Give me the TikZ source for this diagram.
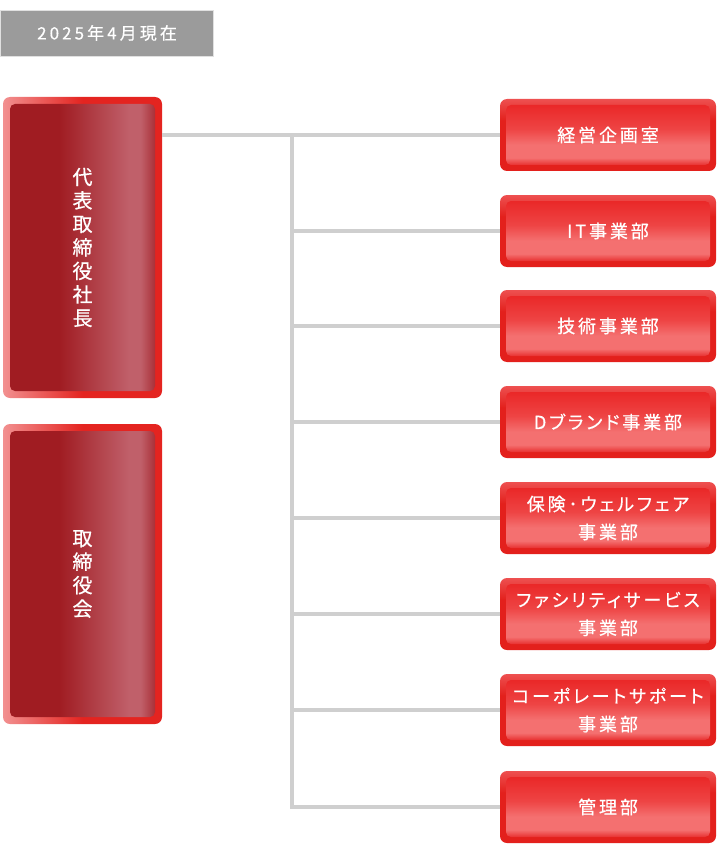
\documentclass[tikz,border=0pt]{standalone}
\usepackage{fontspec}
\setmainfont{Noto Sans CJK JP}
\newfontfamily\jpls[LetterSpace=16, RawFeature=+palt, FakeBold=0.6]{Noto Sans CJK JP}
\newfontfamily\jpdate[LetterSpace=18, FakeBold=0.4]{Noto Sans CJK JP}
\newfontfamily\jpvert[FakeBold=0.6]{Noto Sans CJK JP}
\definecolor{lineg}{HTML}{CFCFCF}
\definecolor{datebg}{HTML}{9B9B9B}
\definecolor{rOutA}{HTML}{EE5050}
\definecolor{rOutB}{HTML}{E3201C}
\definecolor{rInTop}{HTML}{EA2828}
\definecolor{rInMid}{HTML}{EE4444}
\definecolor{rInBand}{HTML}{F47070}
\definecolor{rInBot}{HTML}{E83030}
\definecolor{lOutA}{HTML}{F29090}
\definecolor{lOutB}{HTML}{E42420}
\definecolor{lInDark}{HTML}{A01C22}
\definecolor{lInLight}{HTML}{C0606A}
\pgfdeclareverticalshading{rinner}{100bp}{color(0bp)=(rInBot); color(25bp)=(rInBot); color(31bp)=(rInBand); color(42bp)=(rInBand); color(55bp)=(rInMid); color(75bp)=(rInTop); color(100bp)=(rInTop)}
\pgfdeclareverticalshading{router}{100bp}{color(0bp)=(rOutB); color(25bp)=(rOutB); color(60bp)=(rOutB); color(75bp)=(rOutA); color(100bp)=(rOutA)}
\pgfdeclarehorizontalshading{linner}{100bp}{color(0bp)=(lInDark); color(25bp)=(lInDark); color(42bp)=(lInDark); color(66bp)=(lInLight); color(70bp)=(lInLight); color(75bp)=(lInDark!70!lInLight); color(100bp)=(lInDark!70!lInLight)}
\pgfdeclarehorizontalshading{louter}{100bp}{color(0bp)=(lOutA); color(25bp)=(lOutA); color(50bp)=(lOutB); color(75bp)=(lOutB); color(100bp)=(lOutB)}
\tikzset{
  conn/.style={draw=lineg, line width=4.5pt},
  datebox/.style={fill=datebg, draw=black!12, line width=0.8pt, minimum width=213pt, minimum height=46pt, inner sep=0pt, text=white, font=\fontsize{17}{19}\selectfont\jpdate},
  routerbox/.style={shading=router, rounded corners=7pt, minimum width=216pt, minimum height=72pt, inner sep=0pt},
  rinnerbox/.style={shading=rinner, rounded corners=5pt, minimum width=204pt, minimum height=60pt, inner sep=0pt, text=white, align=center, font=\fontsize{18}{28}\selectfont\jpls},
  louterbox/.style={shading=louter, rounded corners=7pt, minimum width=159pt, inner sep=0pt},
  linnerbox/.style={shading=linner, rounded corners=5pt, minimum width=145pt, inner sep=0pt, text=white, align=center, font=\fontsize{20}{23.5}\selectfont\jpvert},
}
\begin{document}
\begin{tikzpicture}[x=1pt,y=-1pt]
\useasboundingbox (0,0) rectangle (717,845);
\node[datebox] (date) at (107,33) {2025年4月現在};
% left boxes
\node[louterbox, minimum height=301pt] (L1o) at (82.5,247.5) {};
\node[linnerbox, minimum height=287pt] (L1) at (82.5,247.5) {代\\表\\取\\締\\役\\社\\長};
\node[louterbox, minimum height=300pt] (L2o) at (82.5,574) {};
\node[linnerbox, minimum height=286pt] (L2) at (82.5,574) {取\\締\\役\\会};
% right boxes
\foreach \i/\y/\t in {1/135/経営企画室, 2/231/IT事業部, 3/326/技術事業部, 4/422/Dブランド事業部, 5/518/{保険･ウェルフェア\\事業部}, 6/614/{ファシリティサービス\\事業部}, 7/710/{コーポレートサポート\\事業部}, 8/807/管理部}{
  \coordinate (j\i) at (292,\y);
  \node[routerbox] (R\i o) at (608,\y) {};
  \node[rinnerbox] (R\i) at (608,\y) {\t};
}
% connectors
\draw[conn] (L1o.east |- j1) -- (j1);
\draw[conn, line cap=rect] (j1) -- (j8);
\foreach \i in {1,...,8}{
  \draw[conn] (j\i) -- (R\i o.west);
}
\end{tikzpicture}
\end{document}
